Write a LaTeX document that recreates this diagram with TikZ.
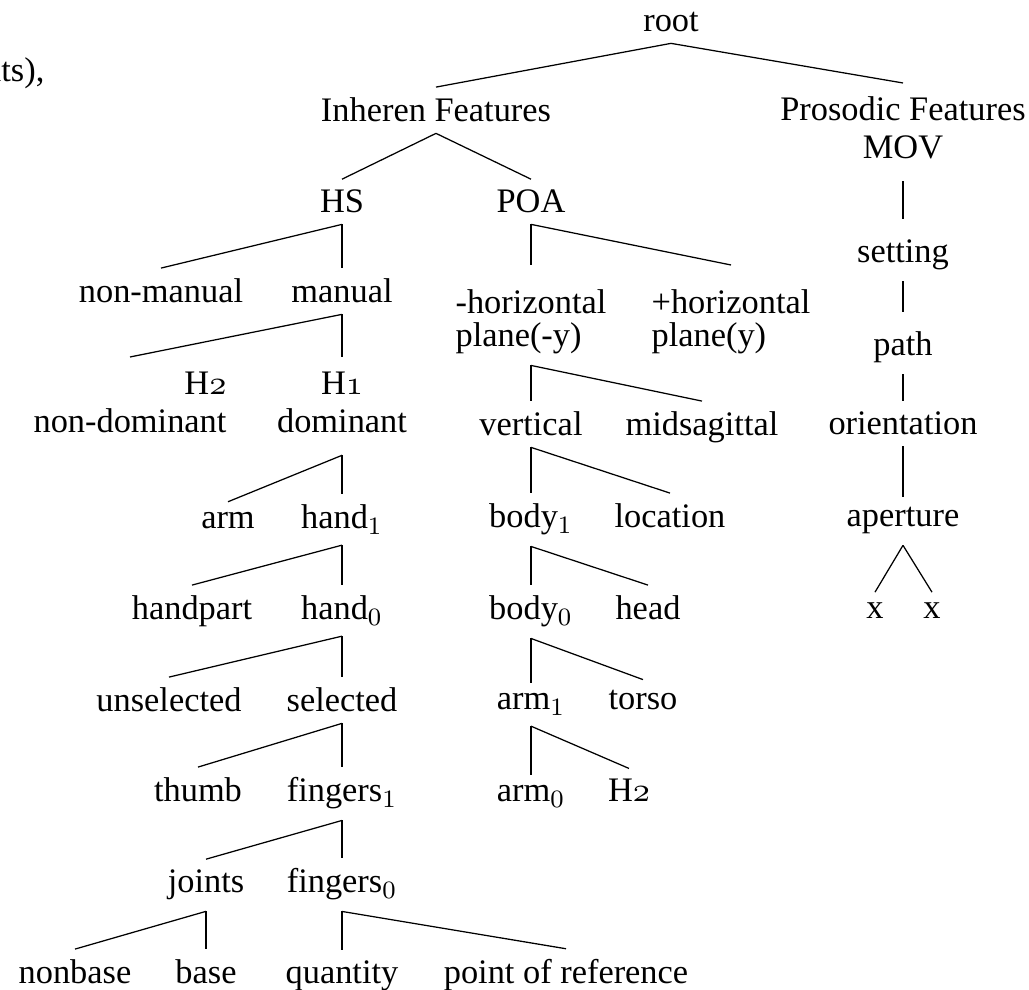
\documentclass[tikz,border=0pt]{standalone}
\usepackage{fontspec}
\setmainfont{Liberation Serif}
\newcommand\oldnum[1]{$\mathnormal{#1}$}
\begin{document}
\begin{tikzpicture}[x=0.32pt,y=-0.32pt,
  font=\fontsize{11pt}{12.2pt}\selectfont,
  feat/.style={anchor=base},
  stack/.style={anchor=north,align=center},
  edge/.style={line width=0.4pt}]
\useasboundingbox (0,0) rectangle (1029,990);
% running text cut off by the crop
\node[anchor=base east,inner sep=0pt] (prev) at (45,82) {nts),};
% top levels
\node[feat] (root) at (671,32) {root};
\node[feat] (inh) at (436,122) {Inheren Features};
\node[stack] (pros) at (903,83) {\strut Prosodic Features\\MOV\strut};
\node[feat] (hs) at (342,213) {HS};
\node[feat] (poa) at (531,213) {POA};
% handshape branch
\node[feat] (nonman) at (161,303) {non-manual};
\node[feat] (man) at (342,303) {manual};
\node[stack,align=right] (ndom) at (130,357) {\strut H\oldnum{2}\\non-dominant\strut};
\node[stack] (dom) at (342,357) {\strut H\oldnum{1}\\dominant\strut};
\node[feat] (arm) at (228,529) {arm};
\node[feat] (handA) at (342,529) {hand$_1$};
\node[feat] (hpart) at (192,620) {handpart};
\node[feat] (handB) at (342,620) {hand$_0$};
\node[feat] (unsel) at (169,712) {unselected};
\node[feat] (sel) at (342,712) {selected};
\node[feat] (thumb) at (198,802) {thumb};
\node[feat] (fingA) at (342,802) {fingers$_1$};
\node[feat] (joints) at (206,893) {joints};
\node[feat] (fingB) at (342,893) {fingers$_0$};
\node[feat] (nonbase) at (75,984) {nonbase};
\node[feat] (base) at (206,984) {base};
\node[feat] (qty) at (342,984) {quantity};
\node[feat] (pref) at (566,984) {point of reference};
% place of articulation branch
\node[stack,align=left] (hneg) at (531,265) {\rule{0pt}{12pt}-horizontal\\[-1.5pt]plane(-y)};
\node[stack,align=left] (hpos) at (731,265) {\rule{0pt}{12pt}+horizontal\\[-1.5pt]plane(y)};
\node[feat] (vert) at (531,436) {vertical};
\node[feat] (midsag) at (702,436) {midsagittal};
\node[feat] (bodyA) at (531,528) {body$_1$};
\node[feat] (loc) at (670,528) {location};
\node[feat] (bodyB) at (531,620) {body$_0$};
\node[feat] (head) at (648,620) {head};
\node[feat] (armA) at (531,710) {arm$_1$};
\node[feat] (torso) at (643,710) {torso};
\node[feat] (armB) at (531,802) {arm$_0$};
\node[feat] (htwo) at (629,802) {H\oldnum{2}};
% movement branch
\node[feat] (set) at (903,263) {\rule{0pt}{10.6pt}setting};
\node[feat] (path) at (903,356) {\rule{0pt}{10.6pt}path};
\node[feat] (orient) at (903,435) {orientation};
\node[feat] (apert) at (903,527) {aperture};
\node[feat] (xa) at (875,619) {x};
\node[feat] (xb) at (932,619) {x};
\foreach \a/\b in {root/inh,root/pros,inh/hs,inh/poa,
  hs/nonman,hs/man,man/ndom,man/dom,dom/arm,dom/handA,handA/hpart,handA/handB,
  handB/unsel,handB/sel,sel/thumb,sel/fingA,fingA/joints,fingA/fingB,
  joints/nonbase,joints/base,fingB/qty,fingB/pref,
  poa/hneg,poa/hpos,hneg/vert,hneg/midsag,vert/bodyA,vert/loc,
  bodyA/bodyB,bodyA/head,bodyB/armA,bodyB/torso,armA/armB,armA/htwo,
  pros/set,set/path,path/orient,orient/apert,apert/xa,apert/xb}
  \draw[edge] (\a.south)--(\b.north);
\end{tikzpicture}
\end{document}
